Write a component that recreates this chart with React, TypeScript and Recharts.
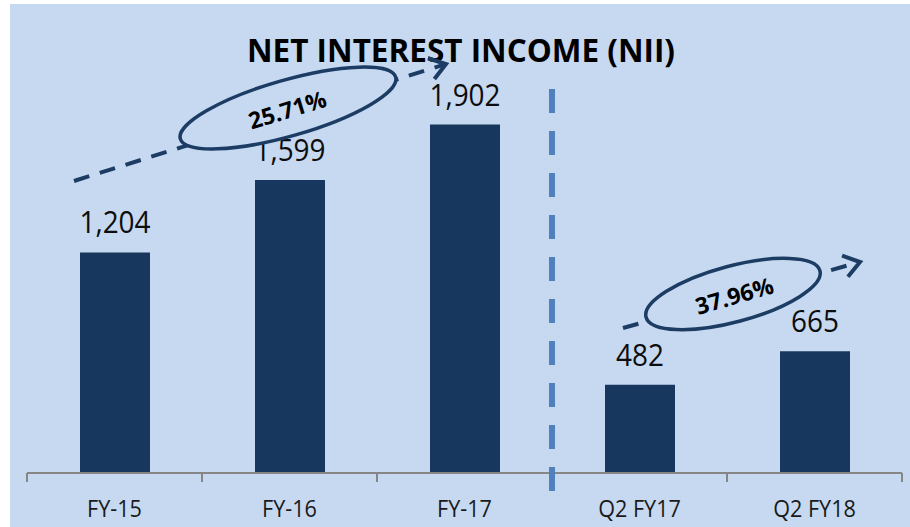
import React from 'react';
import { BarChart, Bar, XAxis, YAxis, LabelList } from 'recharts';

const categories = ['FY-15', 'FY-16', 'FY-17', 'Q2 FY17', 'Q2 FY18'];
const niiValues = [1204, 1599, 1902, 482, 665];
const growthLabels = ['25.71%', '37.96%'];
const chartTitle = 'NET INTEREST INCOME (NII)';

const data = categories.map((c, i) => ({ category: c, value: niiValues[i] }));

const W = 910;
const H = 527;
const MARGIN = { top: 15, right: 8, left: 27, bottom: 0 };
const XAXIS_H = 54;
const PLOT_W = W - MARGIN.left - MARGIN.right;
const BAND = PLOT_W / categories.length;
const AXIS_Y = H - MARGIN.bottom - XAXIS_H;

const BG = '#c6d9f1';
const BAR = '#17375e';
const ANNO = '#1c3c64';
const FONT = '"Open Sans", "Noto Sans", sans-serif';

const fmt = (v: number) => v.toLocaleString('en-US');

const Tick = (props: any) => {
  const { x, payload, index } = props;
  const left = x - BAND / 2;
  const right = x + BAND / 2;
  return (
    <g>
      <line x1={left} y1={AXIS_Y} x2={left} y2={AXIS_Y + 9} stroke="#868686" strokeWidth={2} />
      {index === categories.length - 1 && (
        <line x1={right} y1={AXIS_Y} x2={right} y2={AXIS_Y + 9} stroke="#868686" strokeWidth={2} />
      )}
      <text
        transform={`translate(${x},${AXIS_Y + 44}) scale(0.94,1)`}
        textAnchor="middle"
        fontFamily={FONT}
        fontSize={23}
        fill="#1a1a1a"
      >
        {payload.value}
      </text>
    </g>
  );
};

const ValueLabel = (props: any) => {
  const { x, y, width, value } = props;
  const cx = Number(x) + Number(width) / 2;
  return (
    <text
      transform={`translate(${cx},${Number(y) - 19}) scale(0.9,1)`}
      textAnchor="middle"
      fontFamily={FONT}
      fontSize={31}
      fill="#0d0d0d"
    >
      {fmt(Number(value))}
    </text>
  );
};

type Anno = {
  x1: number; y1: number; x2: number; y2: number;
  cx: number; cy: number; rx: number; ry: number; rot: number;
  tx: number; ty: number; label: string;
};

const annos: Anno[] = [
  { x1: 74, y1: 181, x2: 446, y2: 64, cx: 288, cy: 108, rx: 112, ry: 28, rot: -16, tx: 288, ty: 112, label: growthLabels[0] },
  { x1: 623, y1: 328, x2: 860, y2: 262, cx: 733, cy: 294, rx: 90, ry: 28, rot: -15, tx: 735, ty: 298, label: growthLabels[1] },
];

const Arrow = ({ a }: { a: Anno }) => {
  const dx = a.x2 - a.x1;
  const dy = a.y2 - a.y1;
  const len = Math.sqrt(dx * dx + dy * dy);
  const ux = dx / len;
  const uy = dy / len;
  const L = 19;
  const ang = (35 * Math.PI) / 180;
  const rot = (vx: number, vy: number, t: number) => [vx * Math.cos(t) - vy * Math.sin(t), vx * Math.sin(t) + vy * Math.cos(t)];
  const [ax1, ay1] = rot(-ux, -uy, ang);
  const [ax2, ay2] = rot(-ux, -uy, -ang);
  return (
    <g>
      <line x1={a.x1} y1={a.y1} x2={a.x2 - ux * 2} y2={a.y2 - uy * 2} stroke={ANNO} strokeWidth={4} strokeDasharray="16 11" />
      <path
        d={`M${a.x2 + ax1 * L},${a.y2 + ay1 * L} L${a.x2},${a.y2} L${a.x2 + ax2 * L},${a.y2 + ay2 * L}`}
        fill="none"
        stroke={ANNO}
        strokeWidth={4}
        strokeLinejoin="miter"
      />
      <ellipse
        cx={a.cx}
        cy={a.cy}
        rx={a.rx}
        ry={a.ry}
        transform={`rotate(${a.rot} ${a.cx} ${a.cy})`}
        fill={BG}
        stroke={ANNO}
        strokeWidth={3.5}
      />
      <text
        x={a.tx}
        y={a.ty}
        transform={`rotate(${a.rot - 1} ${a.tx} ${a.ty})`}
        textAnchor="middle"
        dominantBaseline="middle"
        fontFamily={FONT}
        fontWeight="bold"
        fontSize={23}
        fill="#000"
      >
        {a.label}
      </text>
    </g>
  );
};

export default function App() {
  const splitX = MARGIN.left + BAND * 3;
  return (
    <div style={{ position: 'absolute', left: 0, top: 0, width: W, height: H, background: '#fff' }}>
      <div style={{ position: 'absolute', left: 10, top: 4, width: W - 10, height: H - 4, background: BG }} />
      <div style={{ position: 'absolute', left: 0, top: 0 }}>
        <BarChart width={W} height={H} data={data} margin={MARGIN}>
          <XAxis
            dataKey="category"
            height={XAXIS_H}
            axisLine={{ stroke: '#868686', strokeWidth: 2 }}
            tickLine={false}
            tick={<Tick />}
            interval={0}
          />
          <YAxis hide domain={[0, 2500]} />
          <Bar dataKey="value" fill={BAR} barSize={70} isAnimationActive={false}>
            <LabelList dataKey="value" content={<ValueLabel />} />
          </Bar>
        </BarChart>
      </div>
      <svg width={W} height={H} style={{ position: 'absolute', left: 0, top: 0, pointerEvents: 'none' }}>
        <text
          x={461}
          y={62}
          textAnchor="middle"
          fontFamily={FONT}
          fontWeight="bold"
          fontSize={33}
          textLength={428}
          lengthAdjust="spacingAndGlyphs"
          fill="#000"
        >
          {chartTitle}
        </text>
        <line x1={splitX} y1={89} x2={splitX} y2={491} stroke="#4f81bd" strokeWidth={6} strokeDasharray="24 18" />
        {annos.map((a, i) => (
          <Arrow key={i} a={a} />
        ))}
      </svg>
    </div>
  );
}
